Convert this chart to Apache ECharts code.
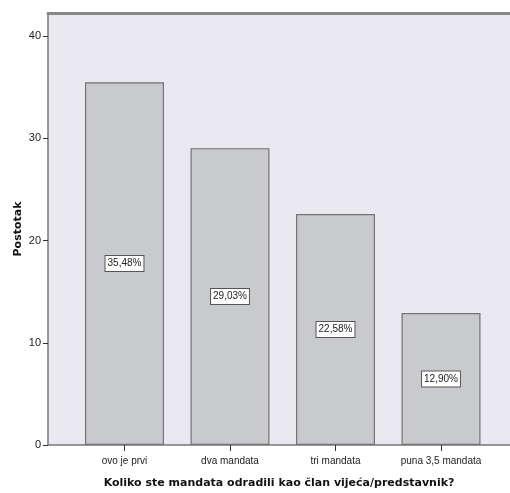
<!DOCTYPE html>
<html>
<head>
<meta charset="utf-8">
<script src="https://cdn.jsdelivr.net/npm/echarts@6/dist/echarts.min.js"></script>
<style>
html,body{margin:0;padding:0;background:#fff;}
#c{width:510px;height:493px;}
</style>
</head>
<body>
<div id="c"></div>
<script>
var categories = ['ovo je prvi', 'dva mandata', 'tri mandata', 'puna 3,5 mandata'];
var values = [35.48, 29.03, 22.58, 12.90];
var yTicks = [0, 10, 20, 30, 40];

var narrow = '"Liberation Sans Narrow", "Arial Narrow", "Liberation Sans", sans-serif';
var chart = echarts.init(document.getElementById('c'));
var idx = categories.map(function (c, i) { return i; });
chart.setOption({
  animation: false,
  grid: { left: 48, right: 0, top: 13, bottom: 48, outerBoundsMode: 'none', containLabel: false,
    show: true, backgroundColor: '#eae9ef', borderWidth: 0 },
  xAxis: [{
    type: 'value', min: -0.725, max: 3.654,
    name: 'Koliko ste mandata odradili kao član vijeća/predstavnik?',
    nameLocation: 'middle', nameGap: 33, nameMoveOverlap: false,
    nameTextStyle: { fontFamily: 'DejaVu Sans', fontWeight: 'bold', fontSize: 11, color: '#111' },
    splitLine: { show: false },
    axisLine: { show: true, onZero: false, lineStyle: { color: '#777', width: 1.5 } },
    axisTick: { show: true, length: 6, customValues: idx, lineStyle: { color: '#333' } },
    axisLabel: { customValues: idx, formatter: function (v) { return categories[Math.round(v)]; },
      fontFamily: narrow, fontSize: 10, color: '#222', margin: 11 }
  }, {
    type: 'value', position: 'top', min: 0, max: 1,
    axisLine: { show: true, onZero: false, lineStyle: { color: '#888', width: 3 } },
    axisTick: { show: false }, axisLabel: { show: false }, splitLine: { show: false }
  }],
  yAxis: {
    type: 'value', min: 0, max: 42.25,
    name: 'Postotak', nameLocation: 'middle', nameGap: 24, nameMoveOverlap: false,
    nameTextStyle: { fontFamily: 'DejaVu Sans', fontWeight: 'bold', fontSize: 11, color: '#111' },
    splitLine: { show: false },
    axisLine: { show: true, onZero: false, lineStyle: { color: '#777', width: 1.5 } },
    axisTick: { show: true, length: 5, customValues: yTicks, lineStyle: { color: '#333' } },
    axisLabel: { customValues: yTicks, fontFamily: narrow, fontSize: 11, color: '#222', margin: 7 }
  },
  series: [{
    type: 'bar',
    barWidth: 79,
    data: values.map(function (v, i) { return [i, v]; }),
    itemStyle: { color: '#c9cacd', borderColor: '#737373', borderWidth: 1.2 },
    label: {
      show: true, position: 'inside',
      formatter: function (p) { return p.value[1].toFixed(2).replace('.', ',') + '%'; },
      fontFamily: narrow, fontSize: 10, color: '#222',
      backgroundColor: '#fff', borderColor: '#555', borderWidth: 1, padding: [3, 2, 2, 2]
    }
  }]
});
</script>
</body>
</html>
